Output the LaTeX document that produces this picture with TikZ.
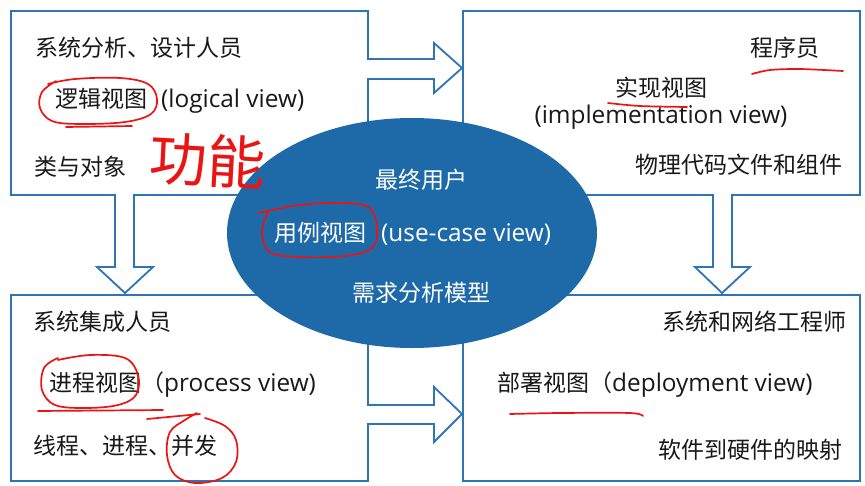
\documentclass[tikz,border=0pt]{standalone}
\usepackage{fontspec}
\setmainfont{Noto Sans CJK SC}
\newfontfamily\lat[Scale=1.06]{Open Sans}
\usetikzlibrary{shapes.geometric}
\definecolor{boxblue}{RGB}{46,117,182}
\definecolor{ellblue}{RGB}{30,106,168}
\definecolor{txtcol}{RGB}{25,25,25}
\definecolor{annred}{RGB}{235,20,20}
\tikzset{
  box/.style={draw=boxblue, line width=1.8pt, fill=white, anchor=north west, inner sep=0},
  blockarrow/.style={draw=boxblue, line width=1.8pt, fill=white, line join=miter},
  txt/.style={font=\fontsize{23}{28}\selectfont, inner sep=0, text=txtcol},
  wtxt/.style={font=\fontsize{23}{28}\selectfont, inner sep=0, text=white},
  annot/.style={draw=annred, line width=1.7pt, line cap=round, line join=round},
}
\begin{document}
\begin{tikzpicture}[x=1pt,y=-1pt]
\useasboundingbox (0,0) rectangle (865,485);
\fill[white] (0,0) rectangle (865,485);
% boxes
\node[box, minimum width=357pt, minimum height=184pt] (tl) at (10,10) {};
\node[box, minimum width=397pt, minimum height=184pt] (tr) at (462,10) {};
\node[box, minimum width=357pt, minimum height=186pt] (bl) at (10,294) {};
\node[box, minimum width=397pt, minimum height=186pt] (br) at (462,294) {};
% block arrows
\draw[blockarrow] (367,59) -- (434,59) -- (434,43) -- (462,68) -- (434,93) -- (434,79) -- (367,79);
\draw[blockarrow] (367,405) -- (434,405) -- (434,387) -- (462,414) -- (434,442) -- (434,424) -- (367,424);
\draw[blockarrow] (115,194) -- (115,267) -- (97,267) -- (125,293) -- (153,267) -- (134,267) -- (134,194);
\draw[blockarrow] (713,194) -- (713,267) -- (695,267) -- (722,293) -- (750,267) -- (732,267) -- (732,194);
% ellipse
\node[ellipse, fill=ellblue, minimum width=370pt, minimum height=230pt, inner sep=0] (uc) at (412,233) {};
% texts top-left
\node[txt, anchor=west] (tl1) at (35,48) {系统分析、设计人员};
\node[txt, anchor=west] (tl2) at (55,101) {逻辑视图\hspace{14pt}{\lat (logical view)}};
\node[txt, anchor=west] (tl3) at (34,167) {类与对象};
% texts top-right
\node[txt, anchor=east] (tr1) at (820,48) {程序员};
\node[txt] (tr2) at (661,88) {实现视图};
\node[txt, font=\lat\fontsize{23}{28}\selectfont] (tr3) at (661,117) {(implementation view)};
\node[txt, anchor=east] (tr4) at (843,165) {物理代码文件和组件};
% texts bottom-left
\node[txt, anchor=west] (bl1) at (33,322) {系统集成人员};
\node[txt, anchor=west] (bl2) at (49,385) {进程视图（{\lat process view)}};
\node[txt, anchor=west] (bl3) at (33,446) {线程、进程、并发};
% texts bottom-right
\node[txt, anchor=east] (br1) at (847,322) {系统和网络工程师};
\node[txt, anchor=west] (br2) at (497,385) {部署视图（{\lat deployment view)}};
\node[txt, anchor=east] (br3) at (843,450) {软件到硬件的映射};
% ellipse texts
\node[wtxt] (u1) at (421,180) {最终用户};
\node[wtxt, anchor=west] (u2) at (274,234) {用例视图\hspace{15pt}{\lat (use-case view)}};
\node[wtxt] (u3) at (421,293) {需求分析模型};
% red annotations
\draw[annot] plot[smooth, tension=0.6] coordinates {(48,84) (75,79) (120,78) (148,84) (157,99) (151,114) (125,122) (80,124) (52,121) (40,108) (42,92) (56,81)};
\draw[annot] (66,127) -- (132,126);
\node[font=\fontsize{58}{62}\selectfont, text=annred, inner sep=0, rotate=-3] (gn) at (208,160) {功能};
\draw[annot] plot[smooth, tension=0.6] coordinates {(258,213) (300,205) (345,203) (370,208) (377,228) (372,248) (345,256) (300,257) (270,252) (262,232) (268,212)};
\draw[annot] plot[smooth, tension=0.6] coordinates {(58,360) (90,355) (125,358) (138,375) (136,395) (118,405) (85,408) (55,405) (42,390) (44,368) (58,358)};
\draw[annot] (38,411) -- (163,410);
\draw[annot] (147,419) -- (200,414);
\draw[annot] plot[smooth, tension=0.6] coordinates {(197,413) (185,420) (170,432) (167,455) (175,475) (195,483) (222,478) (236,462) (236,440) (225,426) (205,418)};
\draw[annot] plot[smooth, tension=0.5] coordinates {(752,74) (770,70) (800,69) (843,71)};
\draw[annot] plot[smooth, tension=0.5] coordinates {(608,103) (640,106) (687,107)};
\draw[annot] plot[smooth, tension=0.5] coordinates {(510,414) (560,413) (630,413) (643,416)};
\end{tikzpicture}
\end{document}
